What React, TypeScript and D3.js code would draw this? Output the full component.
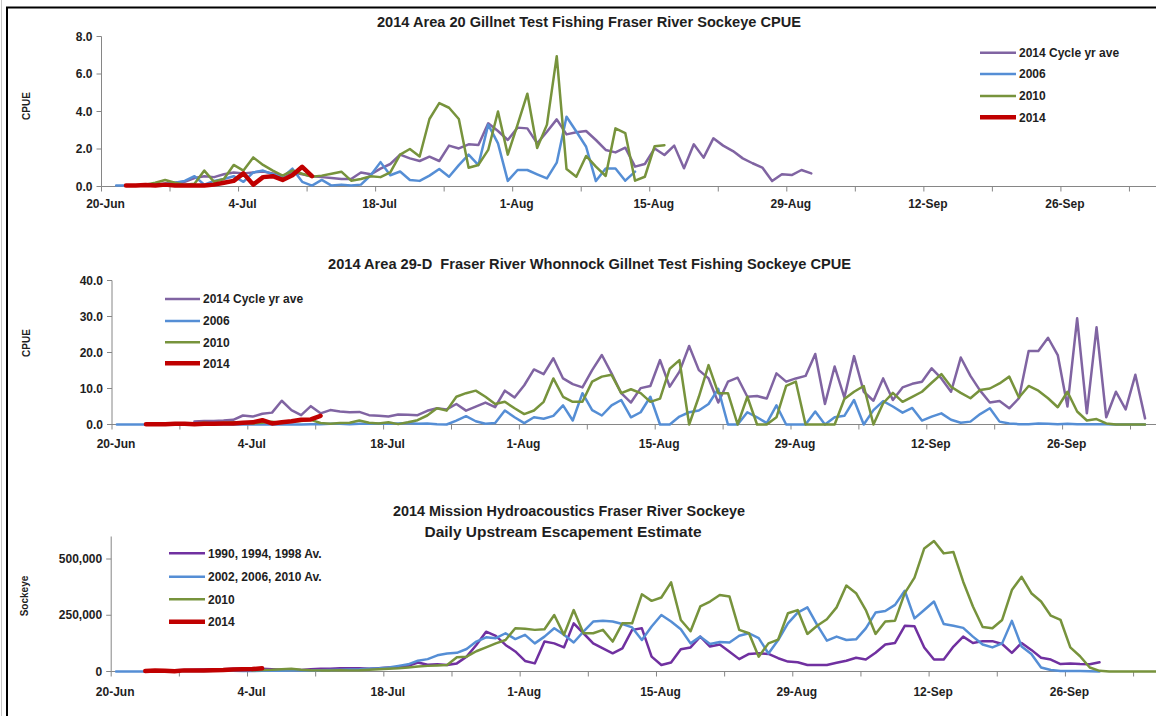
import React from "react";
import * as d3 from "d3";

const parseDay = d3.timeParse("%Y-%m-%d");
const fmtDay = d3.timeFormat("%-d-%b");

// all three panels share the same date axis
const AXIS_FROM = "2014-06-20";
const AXIS_TO = "2014-10-06";

// ---- 2014 Area 20 Gillnet CPUE
const A20_LABELS = ["2014 Cycle yr ave", "2006", "2010", "2014"];
const A20_CYCLE_FROM = "2014-06-24";
const A20_CYCLE = [0.05, 0.1, 0.15, 0.2, 0.25, 0.45, 0.55, 0.5, 0.65, 0.75,
  0.7, 0.75, 0.8, 0.7, 0.55, 0.75, 0.65, 0.55, 0.5, 0.45,
  0.4, 0.4, 0.75, 0.65, 0.95, 1.2, 1.7, 1.5, 1.36, 1.59,
  1.36, 2.18, 2.03, 2.25, 2.21, 3.37, 2.96, 2.48, 3.14, 3.1,
  2.3, 2.92, 3.58, 2.78, 2.89, 2.96, 2.48, 1.95, 1.82, 2.07,
  1.06, 1.2, 2.03, 1.68, 2.18, 0.97, 2.25, 1.54, 2.57, 2.18,
  1.89, 1.5, 1.24, 1.01, 0.29, 0.65, 0.61, 0.88, 0.7];
const A20_2006_FROM = "2014-06-21";
const A20_2006 = [0.05, 0.05, 0.05, 0.1, 0.1, 0.15, 0.2, 0.3, 0.55, 0.1,
  0.3, 0.4, 0.55, 0.25, 0.75, 0.85, 0.65, 0.5, 0.95, 0.25,
  0.05, 0.35, 0.05, 0.1, 0.05, 0.1, 0.6, 1.3, 0.6, 0.8,
  0.35, 0.3, 0.58, 0.93, 0.52, 1.14, 1.7, 1.14, 3.3, 2.3,
  0.3, 0.88, 0.88, 0.65, 0.43, 1.27, 3.72, 2.93, 2.12, 0.29,
  0.96, 0.96, 0.31, 0.79];
const A20_2010_FROM = "2014-06-24";
const A20_2010 = [0.1, 0.2, 0.35, 0.2, 0.1, 0.15, 0.85, 0.25, 0.4, 1.15,
  0.85, 1.55, 1.15, 0.85, 0.58, 0.85, 0.68, 0.52, 0.58, 0.68,
  0.79, 0.31, 0.4, 0.55, 0.5, 0.75, 1.7, 2.0, 1.6, 3.6,
  4.45, 4.2, 3.6, 1.0, 1.15, 1.95, 4.0, 1.7, 3.3, 4.95,
  2.05, 3.3, 6.95, 0.93, 0.52, 1.63, 1.06, 0.56, 3.1, 2.85,
  0.31, 0.52, 2.15, 2.2];
const A20_2014_FROM = "2014-06-22";
const A20_2014 = [0.05, 0.05, 0.08, 0.05, 0.1, 0.05, 0.05, 0.05, 0.05, 0.1,
  0.2, 0.3, 0.7, 0.1, 0.5, 0.55, 0.35, 0.6, 1.05, 0.55];

// ---- 2014 Area 29-D Whonnock CPUE
const A29_LABELS = ["2014 Cycle yr ave", "2006", "2010", "2014"];
const A29_CYCLE_FROM = "2014-06-28";
const A29_CYCLE = [0.8, 1.0, 1.0, 1.1, 1.3, 2.5, 2.2, 3.0, 3.3, 6.6,
  4.0, 2.6, 5.1, 3.1, 4.0, 3.6, 3.4, 3.5, 2.6, 2.4,
  2.2, 2.8, 2.7, 2.6, 3.8, 4.5, 4.2, 5.7, 3.85, 4.95,
  6.1, 4.8, 9.4, 7.5, 10.9, 15.3, 14.0, 18.4, 12.8, 11.2,
  10.3, 15.1, 19.3, 14.2, 8.7, 6.1, 10.1, 10.7, 17.9, 10.5,
  14.7, 21.8, 15.1, 12.8, 6.1, 11.9, 13.0, 7.7, 7.9, 7.2,
  14.2, 11.9, 12.8, 13.5, 19.6, 5.7, 16.1, 7.5, 19.0, 9.1,
  6.6, 12.8, 6.8, 10.3, 11.3, 11.9, 15.6, 12.8, 9.1, 18.6,
  13.5, 9.4, 6.1, 6.5, 4.5, 7.3, 20.4, 20.4, 24.1, 19.3,
  5.0, 29.5, 3.1, 27.0, 2.0, 9.1, 4.2, 13.8, 1.7];
const A29_2006_FROM = "2014-06-20";
const A29_2006 = [0, 0, 0, 0, 0, 0, 0, 0, 0, 0,
  0, 0, 0, 0, 0, 0, 0, 0, 0, 0,
  0.1, 0.1, 0.2, 0.2, 0.1, 0.2, 0.2, 0.3, 0.2, 0.3,
  0.4, 0.2, 0.3, 0.1, 0, 1.1, 2.3, 0.9, 0.2, 0.4,
  3.9, 2.0, 0.4, 2.0, 1.6, 2.4, 5.3, 1.1, 8.7, 4.0,
  2.5, 5.3, 6.8, 2.0, 3.4, 7.7, 0, 0, 2.2, 3.4,
  3.9, 5.7, 9.9, 0, 0, 3.4, 2.0, 0.4, 5.3, 0,
  0, 0, 3.6, 0, 2.0, 2.4, 6.8, 0, 4.0, 6.5,
  5.0, 3.3, 4.6, 1.1, 2.2, 3.1, 1.3, 0.5, 0.8, 2.9,
  4.5, 0.8, 0.3, 0.1, 0.1, 0.3, 0.2, 0.1, 0.2, 0.1,
  0.1, 0.1, 0.05, 0, 0, 0, 0];
const A29_2010_FROM = "2014-06-24";
const A29_2010 = [0.1, 0.2, 0.2, 0.3, 0.3, 0.5, 0.3, 0.5, 0.6, 0.6,
  0.3, 0.5, 0.8, 0.4, 0.8, 1.0, 1.3, 0.4, 0.2, 0.4,
  0.5, 1.1, 0.5, 0.3, 0.6, 0.1, 0.6, 1.2, 2.5, 4.5,
  3.85, 7.7, 8.7, 9.4, 7.7, 5.7, 6.3, 4.5, 2.9, 3.9,
  6.3, 12.8, 7.7, 6.3, 6.3, 11.9, 13.3, 13.8, 8.7, 9.8,
  8.7, 6.3, 7.2, 15.5, 17.9, 0, 7.7, 16.5, 8.7, 8.7,
  0, 7.7, 0, 0, 2.0, 10.7, 11.9, 0, 0, 0,
  0, 7.1, 9.1, 10.7, 0, 5.9, 8.8, 6.3, 7.7, 9.1,
  11.6, 14.0, 10.5, 8.8, 7.3, 9.6, 10.0, 11.4, 13.3, 7.5,
  10.7, 9.4, 7.3, 4.8, 9.1, 3.6, 1.1, 1.5, 0.3, 0,
  0, 0, 0];
const A29_2014_FROM = "2014-06-23";
const A29_2014 = [0.1, 0.1, 0.1, 0.2, 0.2, 0.1, 0.2, 0.2, 0.3, 0.3,
  0.5, 0.6, 1.2, 0.3, 0.6, 0.9, 1.3, 1.4, 2.4];

// ---- 2014 Mission hydroacoustics, daily escapement
const MIS_LABELS = ["1990, 1994, 1998 Av.", "2002, 2006, 2010 Av.", "2010", "2014"];
const MIS_9098_FROM = "2014-06-23";
const MIS_9098 = [3000, 5000, 4000, 6000, 7000, 8000, 9000, 10000, 10000, 12000,
  13000, 12000, 12000, 10000, 8000, 8000, 7000, 10000, 12000, 12000,
  15000, 15000, 15000, 12000, 15000, 18000, 20000, 25000, 40000, 30000,
  32000, 29000, 36000, 66000, 118000, 177000, 158000, 118000, 89000, 47000,
  36000, 133000, 125000, 107000, 214000, 170000, 125000, 103000, 81000, 103000,
  185000, 192000, 66000, 29000, 40000, 99000, 107000, 155000, 111000, 120000,
  88000, 55000, 78000, 81000, 78000, 59000, 44000, 41000, 29000, 29000,
  29000, 39000, 48000, 61000, 53000, 83000, 120000, 127000, 203000, 201000,
  107000, 53000, 53000, 111000, 155000, 127000, 135000, 135000, 122000, 83000,
  127000, 96000, 61000, 53000, 33000, 36000, 33000, 32000, 41000];
const MIS_0210_FROM = "2014-06-20";
const MIS_0210 = [0, 0, 0, 0, 1000, 1000, 1000, 2000, 2000, 2000,
  3000, 3000, 3000, 2000, 2000, 3000, 3000, 3000, 4000, 5000,
  5000, 6000, 7000, 8000, 9000, 10000, 12000, 14000, 18000, 25000,
  32000, 48000, 55000, 72000, 80000, 83000, 100000, 133000, 152000, 148000,
  170000, 144000, 163000, 125000, 155000, 192000, 163000, 129000, 177000, 222000,
  226000, 222000, 211000, 196000, 140000, 200000, 251000, 222000, 188000, 125000,
  155000, 122000, 131000, 129000, 159000, 170000, 148000, 80000, 140000, 214000,
  262000, 285000, 207000, 137000, 155000, 140000, 143000, 192000, 262000, 269000,
  296000, 359000, 236000, 273000, 311000, 211000, 203000, 194000, 155000, 120000,
  107000, 125000, 225000, 111000, 78000, 18000, 7000, 2000, 2000, 2000,
  1000, 0];
const MIS_2010_FROM = "2014-07-04";
const MIS_2010 = [5000, 7000, 8000, 10000, 12000, 8000, 6000, 5000, 5000, 6000,
  5000, 6000, 8000, 10000, 12000, 14000, 18000, 22000, 25000, 27000,
  29000, 63000, 66000, 90000, 107000, 125000, 140000, 192000, 190000, 185000,
  188000, 251000, 163000, 273000, 170000, 170000, 185000, 133000, 214000, 214000,
  343000, 314000, 329000, 396000, 229000, 179000, 289000, 311000, 340000, 333000,
  185000, 170000, 66000, 125000, 142000, 259000, 273000, 167000, 203000, 232000,
  285000, 382000, 348000, 273000, 167000, 222000, 226000, 348000, 417000, 547000,
  580000, 525000, 531000, 399000, 289000, 198000, 192000, 229000, 362000, 421000,
  348000, 311000, 248000, 229000, 107000, 68000, 18000, 3000, 0, 0,
  0, 0, 0, 0, 0];
const MIS_2014_FROM = "2014-06-23";
const MIS_2014 = [2000, 4000, 3000, 1000, 5000, 5000, 4000, 6000, 7000, 9000,
  10000, 11000, 14000];

const CPUE_TICKS_A20 = [0, 2, 4, 6, 8];
const CPUE_TICKS_A29 = [0, 10, 20, 30, 40];
const SOCKEYE_TICKS = [0, 250000, 500000];

const W = 1156;
const H = 716;
const FONT = "'Liberation Sans', Arial, sans-serif";
const INK = "#1e1e1e";
const AXIS = "#868686";

const toPoints = (from, values) => {
  const start = parseDay(from);
  return values.map((v, i) => [d3.timeHour.offset(d3.timeDay.offset(start, i), 12), v]);
};

const Panel = ({ cfg }) => {
  const start = parseDay(AXIS_FROM);
  const end = parseDay(AXIS_TO);
  const x = d3.scaleTime().domain([start, end]).range([cfg.x0, cfg.x0 + 108 * cfg.dayW]);
  const y = d3.scaleLinear().domain([0, cfg.yMax]).range([cfg.yBase, cfg.yTop]);
  const ticks = d3.range(0, 120, 7).map((d) => d3.timeDay.offset(start, d)).filter((t) => x(t) <= W);
  const line = d3.line().x((d) => x(d[0])).y((d) => y(d[1]));

  return (
    <g fontFamily={FONT}>
      {cfg.titles.map((t, i) => (
        <text key={i} x={t.x} y={t.y} textAnchor="middle" fontSize={14} fontWeight="bold" fill={INK}
          textLength={t.w} lengthAdjust="spacingAndGlyphs" style={{ whiteSpace: "pre" }}>{t.text}</text>
      ))}
      <text transform={`translate(${cfg.yTitleX},${cfg.yTitleY}) rotate(-90)`} textAnchor="middle"
        dy="0.35em" fontSize={10} fontWeight="bold" fill={INK}>{cfg.yTitle}</text>

      <line x1={cfg.x0} x2={cfg.x0} y1={cfg.yBase} y2={cfg.yTop} stroke={AXIS} />
      {cfg.yTicks.map((v) => (
        <g key={v}>
          <line x1={cfg.x0 - 5} x2={cfg.x0} y1={y(v)} y2={y(v)} stroke={AXIS} />
          <text x={cfg.x0 - 9} y={y(v)} dy="0.35em" textAnchor="end" fontSize={12} fontWeight="bold" fill={INK}>
            {cfg.yFmt(v)}
          </text>
        </g>
      ))}

      <line x1={cfg.x0} x2={W} y1={cfg.yBase} y2={cfg.yBase} stroke={AXIS} />
      {ticks.map((t, i) => (
        <g key={i}>
          <line x1={x(t)} x2={x(t)} y1={cfg.yBase} y2={cfg.yBase + 5} stroke={AXIS} />
          {i % 2 === 0 && (
            <text x={x(t) + 4} y={cfg.xLabelY} textAnchor="middle" fontSize={12} fontWeight="bold" fill={INK}>
              {fmtDay(t)}
            </text>
          )}
        </g>
      ))}

      {cfg.series.map((s, i) => (
        <path key={i} d={line(toPoints(s.from, s.values))} fill="none" stroke={s.color}
          strokeWidth={s.width} strokeLinejoin="round" strokeLinecap="round" />
      ))}

      {cfg.series.map((s, i) => (
        <g key={"lg" + i}>
          <line x1={cfg.legend.x0} x2={cfg.legend.x1} y1={cfg.legend.rows[i]} y2={cfg.legend.rows[i]}
            stroke={s.color} strokeWidth={s.width} />
          <text x={cfg.legend.tx} y={cfg.legend.rows[i]} dy="0.35em" fontSize={12} fontWeight="bold" fill={INK}>
            {s.label}
          </text>
        </g>
      ))}
    </g>
  );
};

const PURPLE = "#8064A2";
const VIOLET = "#7030A0";
const BLUE = "#558ED5";
const GREEN = "#77933C";
const RED = "#C00000";

const fmt1 = d3.format(".1f");
const fmtK = d3.format(",");

const panels = [
  {
    titles: [{ text: "2014 Area 20 Gillnet Test Fishing Fraser River Sockeye CPUE", x: 589, y: 26.5, w: 424 }],
    yTitle: "CPUE", yTitleX: 26, yTitleY: 106,
    x0: 101.5, dayW: 9.79, yBase: 186.5, yTop: 36.5, yMax: 8, yTicks: CPUE_TICKS_A20, yFmt: fmt1,
    xLabelY: 208,
    legend: { x0: 980, x1: 1016, tx: 1019, rows: [52.7, 74, 96, 117.3] },
    series: [
      { label: A20_LABELS[0], from: A20_CYCLE_FROM, values: A20_CYCLE, color: PURPLE, width: 2.5 },
      { label: A20_LABELS[1], from: A20_2006_FROM, values: A20_2006, color: BLUE, width: 2.5 },
      { label: A20_LABELS[2], from: A20_2010_FROM, values: A20_2010, color: GREEN, width: 2.5 },
      { label: A20_LABELS[3], from: A20_2014_FROM, values: A20_2014, color: RED, width: 4.5 },
    ],
  },
  {
    titles: [{ text: "2014 Area 29-D  Fraser River Whonnock Gillnet Test Fishing Sockeye CPUE", x: 589.5, y: 268.5, w: 523 }],
    yTitle: "CPUE", yTitleX: 26, yTitleY: 343,
    x0: 112, dayW: 9.7, yBase: 424.5, yTop: 280.5, yMax: 40, yTicks: CPUE_TICKS_A29, yFmt: fmt1,
    xLabelY: 447.5,
    legend: { x0: 165, x1: 200, tx: 203, rows: [299, 321, 342.3, 363.3] },
    series: [
      { label: A29_LABELS[0], from: A29_CYCLE_FROM, values: A29_CYCLE, color: PURPLE, width: 2.5 },
      { label: A29_LABELS[1], from: A29_2006_FROM, values: A29_2006, color: BLUE, width: 2.5 },
      { label: A29_LABELS[2], from: A29_2010_FROM, values: A29_2010, color: GREEN, width: 2.5 },
      { label: A29_LABELS[3], from: A29_2014_FROM, values: A29_2014, color: RED, width: 4.5 },
    ],
  },
  {
    titles: [
      { text: "2014 Mission Hydroacoustics Fraser River Sockeye", x: 569, y: 516, w: 352 },
      { text: "Daily Upstream Escapement Estimate", x: 563, y: 537, w: 277 },
    ],
    yTitle: "Sockeye", yTitleX: 24, yTitleY: 596,
    x0: 111.2, dayW: 9.737, yBase: 671.5, yTop: 536.5, yMax: 600000, yTicks: SOCKEYE_TICKS, yFmt: fmtK,
    xLabelY: 696,
    legend: { x0: 169, x1: 205, tx: 208, rows: [553.3, 576.7, 599.3, 621.7] },
    series: [
      { label: MIS_LABELS[0], from: MIS_9098_FROM, values: MIS_9098, color: VIOLET, width: 2.5 },
      { label: MIS_LABELS[1], from: MIS_0210_FROM, values: MIS_0210, color: BLUE, width: 2.5 },
      { label: MIS_LABELS[2], from: MIS_2010_FROM, values: MIS_2010, color: GREEN, width: 2.5 },
      { label: MIS_LABELS[3], from: MIS_2014_FROM, values: MIS_2014, color: RED, width: 4.5 },
    ],
  },
];

export default function App() {
  return (
    <svg width={W} height={H} style={{ position: "absolute", left: 0, top: 0, background: "#fff" }}>
      <rect width={W} height={H} fill="#fff" />
      <line x1={1.5} x2={1.5} y1={0} y2={H} stroke="#c8c8c8" />
      <path d={`M7,${H} V7.5 H${W}`} fill="none" stroke="#000" strokeWidth={2} />
      {panels.map((p, i) => <Panel key={i} cfg={p} />)}
    </svg>
  );
}
